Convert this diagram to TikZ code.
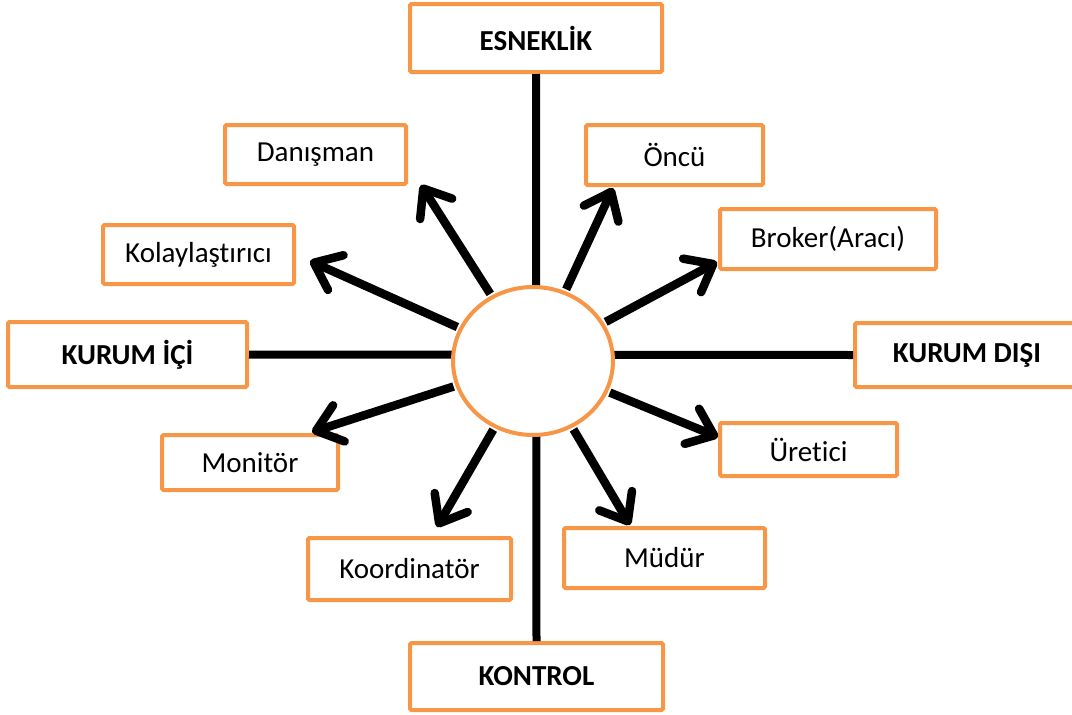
\documentclass[tikz,border=0pt]{standalone}
\usepackage{fontspec}
\setmainfont{Carlito}[Ligatures=CommonOff]
\usetikzlibrary{shapes.geometric,arrows.meta}
\definecolor{boxorange}{HTML}{F79646}
\tikzset{
  box/.style={draw=boxorange,line width=4pt,fill=white,rounded corners=1.5pt,
    inner sep=0pt,font=\fontsize{29}{34}\selectfont},
  headbox/.style={box,font=\fontsize{29}{34}\selectfont\bfseries},
  spoke/.style={line width=8pt},
  role/.style={line width=8.5pt,shorten <=2pt,
    -{Straight Barb[length=24pt,width=38pt,round]}}
}
\begin{document}
\begin{tikzpicture}[x=1pt,y=-1pt]
        \useasboundingbox (0,0) rectangle (1072,715);
        %% Main boxes
        \node[headbox,minimum width=252pt,minimum height=68pt] (esn) at (536,38) {ESNEKLİK};
        \node[headbox,minimum width=253pt,minimum height=67pt] (kon) at (536.5,676.5) {KONTROL};
        \node[headbox,minimum width=239pt,minimum height=65pt] (ici) at (127.5,354.5) {KURUM İÇİ};
        \node[headbox,minimum width=224pt,minimum height=64pt] (disi) at (967,355) {KURUM DIŞI};
        %% Role boxes
        \node[box,minimum width=181pt,minimum height=59pt] (dan) at (315.5,154.5) {Danışman};
        \node[box,minimum width=177pt,minimum height=60pt] (onc) at (674.5,155) {Öncü};
        \node[box,minimum width=216pt,minimum height=60pt] (bro) at (828,239) {Broker(Aracı)};
        \node[box,minimum width=191pt,minimum height=59pt] (kol) at (198.5,254.5) {Kolaylaştırıcı};
        \node[box,minimum width=176pt,minimum height=55pt] (mon) at (250,462.5) {Monitör};
        \node[box,minimum width=177pt,minimum height=53pt] (ure) at (808.5,449.5) {Üretici};
        \node[box,minimum width=203pt,minimum height=62pt] (koo) at (409.5,569) {Koordinatör};
        \node[box,minimum width=201pt,minimum height=60pt] (mud) at (664.5,558) {Müdür};
        %% Axes
        \draw[spoke] (esn.south) -- (kon.north);
        \draw[spoke] (ici.east) -- (disi.west);
        %% Centre
        \node[ellipse,draw=boxorange,line width=4pt,fill=white,
              minimum width=160pt,minimum height=148pt] (c) at (533,361) {};
        %% Arrow tips
        \coordinate (tdan) at (421,185);
        \coordinate (tonc) at (613,188);
        \coordinate (tbro) at (717,262);
        \coordinate (tkol) at (310,261);
        \coordinate (tmon) at (312,432);
        \coordinate (ture) at (718,437);
        \coordinate (tkoo) at (437,527);
        \coordinate (tmud) at (630,525);
        %% Arrows
        \foreach \t in {tdan,tonc,tbro,tkol,tmon,ture,tkoo,tmud}
          \draw[role] (c) -- (\t);
\end{tikzpicture}
\end{document}
